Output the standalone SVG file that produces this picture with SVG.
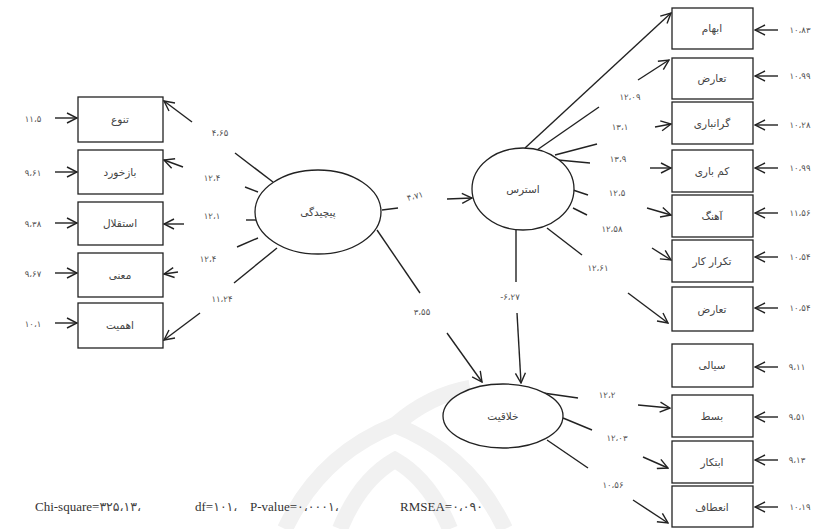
<svg xmlns="http://www.w3.org/2000/svg" width="835" height="529" viewBox="0 0 835 529">
<style>
.box{fill:#fff;stroke:#222;stroke-width:1.3}
.ell{fill:#fff;stroke:#222;stroke-width:1.3}
.ln{stroke:#222;stroke-width:1.4;fill:none}
.ar{stroke:#222;stroke-width:1.4;fill:none;marker-end:url(#ah)}
.lb{font-family:"DejaVu Sans",sans-serif;font-size:10.5px;fill:#444;text-anchor:middle}
.nm{font-family:"DejaVu Sans",sans-serif;font-size:8.5px;fill:#555;text-anchor:middle}
.ft{font-family:"Liberation Serif","DejaVu Sans",serif;font-size:13px;fill:#333}
.fd{font-family:"DejaVu Sans",sans-serif;font-size:12.5px;fill:#444}
</style>
<defs>
<marker id="ah" viewBox="0 0 12 12" refX="11" refY="6" markerWidth="12" markerHeight="12" markerUnits="userSpaceOnUse" orient="auto">
<path d="M1,1 L11,6 L1,11" fill="none" stroke="#222" stroke-width="1.4"/>
</marker>
</defs>
<rect width="835" height="529" fill="#fff"/>
<g id="watermark" fill="none" stroke="#f1f1f1" stroke-width="16">
<path d="M285,529 Q320,455 395,425 Q470,455 505,529"/>
<path d="M340,529 Q360,480 395,460 Q430,480 450,529"/>
<path d="M395,425 Q430,395 470,388"/>
</g>
<g id="connectors">
<line class="ln" x1="235" y1="153" x2="273" y2="182"/>
<line class="ar" x1="192" y1="122" x2="164" y2="101"/>
<line class="ln" x1="245" y1="187" x2="258" y2="192"/>
<line class="ar" x1="183" y1="167" x2="164" y2="160"/>
<line class="ln" x1="246" y1="220" x2="257" y2="220"/>
<line class="ar" x1="184" y1="224" x2="164" y2="224"/>
<line class="ln" x1="237" y1="247" x2="258" y2="238"/>
<line class="ar" x1="178" y1="272" x2="164" y2="274"/>
<line class="ln" x1="234" y1="283" x2="277" y2="248"/>
<line class="ar" x1="200" y1="313" x2="164" y2="340"/>
<line class="ar" x1="55" y1="118" x2="77" y2="118"/>
<line class="ar" x1="55" y1="172" x2="77" y2="172"/>
<line class="ar" x1="55" y1="223" x2="77" y2="223"/>
<line class="ar" x1="55" y1="273" x2="77" y2="273"/>
<line class="ar" x1="55" y1="323" x2="77" y2="323"/>
<line class="ln" x1="382" y1="210" x2="398" y2="208"/>
<line class="ar" x1="447" y1="199" x2="472" y2="198"/>
<line class="ln" x1="377" y1="230" x2="420" y2="293"/>
<line class="ar" x1="447" y1="333" x2="482" y2="382"/>
<line class="ln" x1="516" y1="230" x2="516" y2="282"/>
<line class="ar" x1="517" y1="313" x2="521" y2="383"/>
<line class="ar" x1="525" y1="148" x2="671" y2="13"/>
<line class="ln" x1="537" y1="150" x2="599" y2="107"/>
<line class="ar" x1="638" y1="80" x2="669" y2="60"/>
<line class="ln" x1="555" y1="155" x2="597" y2="144"/>
<line class="ar" x1="655" y1="127" x2="671" y2="124"/>
<line class="ln" x1="558" y1="160" x2="590" y2="163"/>
<line class="ar" x1="650" y1="168" x2="671" y2="168"/>
<line class="ln" x1="573" y1="190" x2="588" y2="195"/>
<line class="ar" x1="647" y1="208" x2="671" y2="215"/>
<line class="ln" x1="573" y1="208" x2="587" y2="215"/>
<line class="ar" x1="652" y1="248" x2="671" y2="260"/>
<line class="ln" x1="547" y1="228" x2="582" y2="255"/>
<line class="ar" x1="628" y1="293" x2="668" y2="323"/>
<line class="ln" x1="543" y1="393" x2="578" y2="398"/>
<line class="ar" x1="638" y1="405" x2="670" y2="408"/>
<line class="ln" x1="563" y1="418" x2="592" y2="430"/>
<line class="ar" x1="643" y1="457" x2="668" y2="468"/>
<line class="ln" x1="547" y1="440" x2="588" y2="468"/>
<line class="ar" x1="633" y1="500" x2="668" y2="523"/>
<line class="ar" x1="778" y1="30" x2="755" y2="30"/>
<line class="ar" x1="778" y1="76" x2="755" y2="76"/>
<line class="ar" x1="778" y1="125" x2="755" y2="125"/>
<line class="ar" x1="778" y1="168" x2="755" y2="168"/>
<line class="ar" x1="778" y1="213" x2="755" y2="213"/>
<line class="ar" x1="778" y1="257" x2="755" y2="257"/>
<line class="ar" x1="778" y1="308" x2="755" y2="308"/>
<line class="ar" x1="778" y1="367" x2="755" y2="367"/>
<line class="ar" x1="778" y1="417" x2="755" y2="417"/>
<line class="ar" x1="778" y1="460" x2="755" y2="460"/>
<line class="ar" x1="778" y1="507" x2="755" y2="507"/>
</g>
<g id="labels">
<text class="nm" x="33" y="122">۱۱،۵</text>
<text class="nm" x="33" y="176">۹،۶۱</text>
<text class="nm" x="33" y="227">۹،۳۸</text>
<text class="nm" x="33" y="277">۹،۶۷</text>
<text class="nm" x="33" y="327">۱۰،۱</text>
<text class="nm" x="220" y="136">۴،۶۵</text>
<text class="nm" x="212" y="181">۱۲،۴</text>
<text class="nm" x="212" y="219">۱۲،۱</text>
<text class="nm" x="208" y="262">۱۲،۴</text>
<text class="nm" x="222" y="302">۱۱،۲۴</text>
<text class="nm" x="415" y="199" transform="rotate(-15 415 196)">۴،۷۱</text>
<text class="nm" x="422" y="315">۳،۵۵</text>
<text class="nm" x="510" y="300">-۶،۲۷</text>
<text class="nm" x="630" y="100">۱۲،۰۹</text>
<text class="nm" x="620" y="130">۱۳،۱</text>
<text class="nm" x="618" y="162">۱۳،۹</text>
<text class="nm" x="617" y="196">۱۲،۵</text>
<text class="nm" x="612" y="232">۱۲،۵۸</text>
<text class="nm" x="598" y="271">۱۲،۶۱</text>
<text class="nm" x="607" y="398">۱۲،۲</text>
<text class="nm" x="617" y="441">۱۲،۰۳</text>
<text class="nm" x="613" y="488">۱۰،۵۶</text>
<text class="nm" x="800" y="33">۱۰،۸۳</text>
<text class="nm" x="800" y="79">۱۰،۹۹</text>
<text class="nm" x="800" y="128">۱۰،۲۸</text>
<text class="nm" x="800" y="171">۱۰،۹۹</text>
<text class="nm" x="800" y="216">۱۱،۵۶</text>
<text class="nm" x="800" y="260">۱۰،۵۴</text>
<text class="nm" x="800" y="311">۱۰،۵۴</text>
<text class="nm" x="797" y="370">۹،۱۱</text>
<text class="nm" x="797" y="420">۹،۵۱</text>
<text class="nm" x="797" y="463">۹،۱۳</text>
<text class="nm" x="800" y="510">۱۰،۱۹</text>
</g>
<g id="n-tanavo"><rect class="box" x="78" y="97" width="85" height="45"/><text class="lb" x="120" y="123">تنوع</text></g>
<g id="n-bazkhord"><rect class="box" x="78" y="150" width="85" height="44"/><text class="lb" x="120" y="176">بازخورد</text></g>
<g id="n-esteghlal"><rect class="box" x="78" y="202" width="85" height="43"/><text class="lb" x="120" y="227">استقلال</text></g>
<g id="n-mani"><rect class="box" x="78" y="253" width="85" height="44"/><text class="lb" x="120" y="279">معنی</text></g>
<g id="n-ahamiat"><rect class="box" x="78" y="303" width="85" height="45"/><text class="lb" x="120" y="329">اهمیت</text></g>
<g id="n-pichidegi"><ellipse class="ell" cx="318" cy="212" rx="63" ry="42"/><text class="lb" x="318" y="216">پیچیدگی</text></g>
<g id="n-stress"><ellipse class="ell" cx="523" cy="189" rx="51" ry="41"/><text class="lb" x="523" y="193">استرس</text></g>
<g id="n-khalaghiat"><ellipse class="ell" cx="503" cy="416" rx="60" ry="32"/><text class="lb" x="503" y="420">خلاقیت</text></g>
<g id="n-ebham"><rect class="box" x="672" y="8" width="81" height="41"/><text class="lb" x="712" y="32">ابهام</text></g>
<g id="n-taaroz1"><rect class="box" x="672" y="58" width="81" height="41"/><text class="lb" x="712" y="82">تعارض</text></g>
<g id="n-geranbari"><rect class="box" x="672" y="102" width="81" height="42"/><text class="lb" x="712" y="127">گرانباری</text></g>
<g id="n-kambari"><rect class="box" x="672" y="150" width="81" height="42"/><text class="lb" x="712" y="175">کم باری</text></g>
<g id="n-ahang"><rect class="box" x="672" y="195" width="81" height="42"/><text class="lb" x="712" y="220">آهنگ</text></g>
<g id="n-tekrar"><rect class="box" x="672" y="240" width="81" height="42"/><text class="lb" x="712" y="265">تکرار کار</text></g>
<g id="n-taaroz2"><rect class="box" x="672" y="287" width="81" height="44"/><text class="lb" x="712" y="313">تعارض</text></g>
<g id="n-sayali"><rect class="box" x="672" y="344" width="81" height="43"/><text class="lb" x="712" y="369">سیالی</text></g>
<g id="n-bast"><rect class="box" x="672" y="395" width="81" height="42"/><text class="lb" x="712" y="420">بسط</text></g>
<g id="n-ebtekar"><rect class="box" x="672" y="441" width="81" height="42"/><text class="lb" x="712" y="466">ابتکار</text></g>
<g id="n-enetaf"><rect class="box" x="672" y="486" width="81" height="41"/><text class="lb" x="712" y="511">انعطاف</text></g>
<g id="fit">
<text class="ft" x="35" y="511">Chi-square=<tspan class="fd">۳۲۵،۱۳،</tspan></text>
<text class="ft" x="195" y="511">df=<tspan class="fd">۱۰۱،</tspan></text>
<text class="ft" x="250" y="511">P-value=<tspan class="fd">۰،۰۰۰۱،</tspan></text>
<text class="ft" x="400" y="511">RMSEA=<tspan class="fd">۰،۰۹۰</tspan></text>
</g>
</svg>
